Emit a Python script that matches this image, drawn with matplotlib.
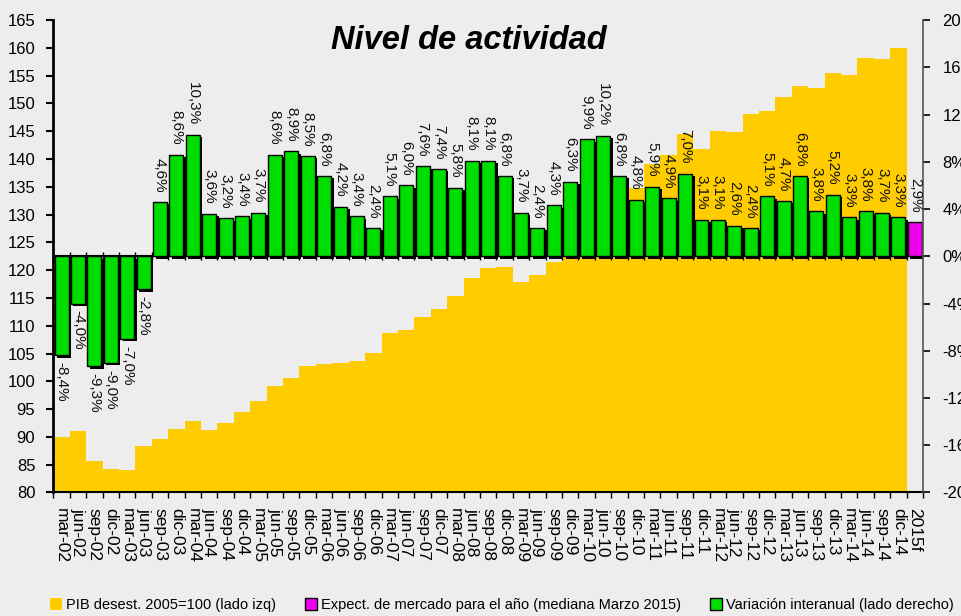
import numpy as np
import matplotlib
matplotlib.use("Agg")
import matplotlib.pyplot as plt
import matplotlib.patheffects as pe
from matplotlib.patches import Patch

# trimestres (eje categorias)
periodos = ["mar-02", "jun-02", "sep-02", "dic-02", "mar-03", "jun-03", "sep-03", "dic-03",
            "mar-04", "jun-04", "sep-04", "dic-04", "mar-05", "jun-05", "sep-05", "dic-05",
            "mar-06", "jun-06", "sep-06", "dic-06", "mar-07", "jun-07", "sep-07", "dic-07",
            "mar-08", "jun-08", "sep-08", "dic-08", "mar-09", "jun-09", "sep-09", "dic-09",
            "mar-10", "jun-10", "sep-10", "dic-10", "mar-11", "jun-11", "sep-11", "dic-11",
            "mar-12", "jun-12", "sep-12", "dic-12", "mar-13", "jun-13", "sep-13", "dic-13",
            "mar-14", "jun-14", "sep-14", "dic-14", "2015f"]

# PIB desestacionalizado 2005=100 (lado izq)
pib = [89.9, 91.0, 85.7, 84.3, 84.0, 88.3, 89.6, 91.4, 92.9, 91.2,
       92.5, 94.5, 96.4, 99.2, 100.6, 102.7, 103.2, 103.3, 103.7, 105.1,
       108.7, 109.2, 111.6, 113.0, 115.3, 118.6, 120.3, 120.6, 117.9, 119.1,
       121.5, 125.0, 128.5, 131.5, 133.5, 134.7, 139.1, 140.7, 144.5, 141.8,
       145.1, 144.8, 148.1, 148.6, 151.1, 153.1, 152.7, 155.4, 155.1, 158.1,
       157.9, 160.0]

# variacion interanual % (lado derecho)
variacion = [-8.4, -4.0, -9.3, -9.0, -7.0, -2.8, 4.6, 8.6, 10.3, 3.6,
             3.2, 3.4, 3.7, 8.6, 8.9, 8.5, 6.8, 4.2, 3.4, 2.4,
             5.1, 6.0, 7.6, 7.4, 5.8, 8.1, 8.1, 6.8, 3.7, 2.4,
             4.3, 6.3, 9.9, 10.2, 6.8, 4.8, 5.9, 4.9, 7.0, 3.1,
             3.1, 2.6, 2.4, 5.1, 4.7, 6.8, 3.8, 5.2, 3.3, 3.8,
             3.7, 3.3]

# expectativa de mercado 2015 (mediana marzo 2015)
expectativa = [2.9]

fondo = "#EDEDED"
amarillo = "#FFCC00"
verde = "#00DD00"
magenta = "#EE00EE"

plt.rcParams['font.family'] = ['Liberation Sans', 'DejaVu Sans']

fig = plt.figure(figsize=(9.61, 6.16), dpi=100, facecolor=fondo)
ax1 = fig.add_axes([0.0555, 0.2005, 0.905, 0.767])
ax1.set_facecolor(fondo)

x = np.arange(len(periodos))
n = len(pib)

ax1.bar(x[:n], pib, width=1.0, color=amarillo, linewidth=0)
ax1.set_ylim(80, 165)
ax1.set_yticks(range(80, 166, 5))
ax1.set_xlim(-0.5, len(periodos) - 0.5)
ax1.set_xticks(np.arange(-0.5, len(periodos), 1))
ax1.set_xticks(x, minor=True)
ax1.set_xticklabels(periodos, minor=True, rotation=-90, fontsize=12.5)
ax1.tick_params(axis='x', which='major', length=4, width=1, labelbottom=False)
ax1.tick_params(axis='x', which='minor', length=0, pad=11)
ax1.tick_params(axis='y', length=5, width=1.5, pad=8, labelsize=12)
ax1.spines['top'].set_visible(False)
ax1.spines['right'].set_visible(False)
ax1.spines['left'].set_linewidth(2)
ax1.spines['bottom'].set_linewidth(1.5)

ax2 = ax1.twinx()
ax2.set_ylim(-20, 20)
ax2.set_yticks(range(-20, 21, 4))
ax2.set_yticklabels([f"{v}%" for v in range(-20, 21, 4)])
ax2.tick_params(axis='y', length=5, width=1.2, pad=9, labelsize=12)
ax2.spines['top'].set_visible(False)
ax2.spines['left'].set_visible(False)
ax2.spines['bottom'].set_visible(False)
ax2.spines['right'].set_color('#555555')
ax2.spines['right'].set_linewidth(1.2)

# eje en 0% con marcas
ax2.axhline(0, color='black', lw=1.5, zorder=1)
ax2.vlines(np.arange(-0.5, len(periodos), 1), -0.35, 0.35, color='black', lw=1, zorder=1)

sombra = [pe.SimplePatchShadow(offset=(1.8, -1.8), shadow_rgbFace='black', alpha=1.0), pe.Normal()]
ax2.bar(x[:n], variacion, width=0.85, color=verde, edgecolor='black', linewidth=1,
        path_effects=sombra, zorder=2)
ax2.bar(x[n:], expectativa, width=0.85, color=magenta, edgecolor='black', linewidth=1,
        path_effects=sombra, zorder=2)

valores = variacion + expectativa
for i, v in enumerate(valores):
    txt = f"{v:.1f}%".replace(".", ",")
    if v > 0:
        ax2.annotate(txt, (x[i], v), xytext=(0, 7), textcoords='offset points',
                     rotation=-90, ha='center', va='bottom', fontsize=11, color='#111111', zorder=3)
    else:
        ax2.annotate(txt, (x[i], v), xytext=(0, -5), textcoords='offset points',
                     rotation=-90, ha='center', va='top', fontsize=11, color='#111111', zorder=3)

fig.text(0.488, 0.935, "Nivel de actividad", fontsize=23.5, fontweight='bold',
         style='italic', ha='center', va='center')

handles = [Patch(facecolor=amarillo, edgecolor='none'),
           Patch(facecolor=magenta, edgecolor='black'),
           Patch(facecolor=verde, edgecolor='black')]
etiquetas = ["PIB desest. 2005=100 (lado izq)",
             "Expect. de mercado para el año (mediana Marzo 2015)",
             "Variación interanual (lado derecho)"]
fig.legend(handles, etiquetas, ncol=3, loc='center left',
           bbox_to_anchor=(50 / 961, 1 - 605 / 616), frameon=False, fontsize=10.5,
           handlelength=0.8, handleheight=0.8, handletextpad=0.3, columnspacing=2.0,
           borderpad=0, borderaxespad=0)

fig.savefig("out.png", dpi=100, facecolor=fig.get_facecolor())
